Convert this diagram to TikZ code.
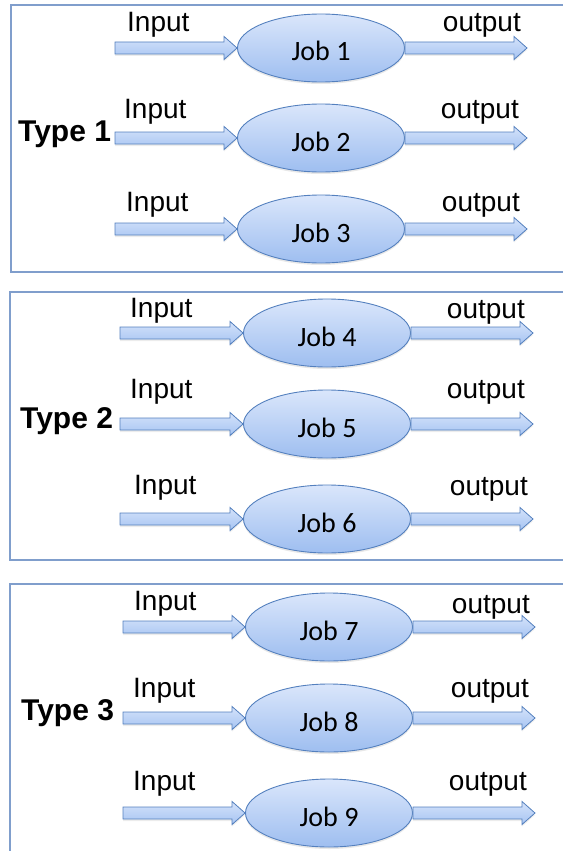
\documentclass[tikz,border=0pt]{standalone}
\usepackage{fontspec}
\usepackage{xcolor}
\usepackage{tikz}
\usetikzlibrary{calc, shapes.geometric, shadows}

\newfontfamily\labfont{Liberation Sans}
\newfontfamily\jobfont{Carlito}

\definecolor{panelline}{RGB}{128,158,204}
\definecolor{jobline}{RGB}{84,128,190}
\definecolor{jobtop}{RGB}{218,230,251}
\definecolor{jobbot}{RGB}{158,190,240}
\definecolor{arrtop}{RGB}{212,226,250}
\definecolor{arrbot}{RGB}{166,196,242}

\begin{document}
\begin{tikzpicture}[
        x=1pt, y=-1pt,
        panel/.style={draw=panelline, line width=1.2pt},
        job/.style={ellipse, draw=jobline, line width=0.9pt,
            top color=jobtop, bottom color=jobbot,
            minimum width=167pt, minimum height=68pt, inner sep=0pt,
            font=\jobfont\fontsize{28}{32}\selectfont,
            text height=26pt, text depth=0pt,
            drop shadow={shadow xshift=0pt, shadow yshift=-2pt, opacity=0.18}},
        blockarrow/.style={draw=jobline, line width=0.8pt,
            top color=arrtop, bottom color=arrbot,
            drop shadow={shadow xshift=0pt, shadow yshift=-2pt, opacity=0.15},
            to path={let \p1=(\tikztostart), \p2=(\tikztotarget) in
                (\x1,{\y1+6pt}) -- ({\x2-13pt},{\y1+6pt}) -- ({\x2-13pt},{\y1+11.5pt})
                -- (\x2,\y1) -- ({\x2-13pt},{\y1-11.5pt}) -- ({\x2-13pt},{\y1-6pt})
                -- (\x1,{\y1-6pt}) -- cycle}},
        inlabel/.style={anchor=base west, inner sep=0pt, font=\labfont\fontsize{28}{32}\selectfont},
        outlabel/.style={anchor=base east, inner sep=0pt, font=\labfont\fontsize{28}{32}\selectfont},
        typelabel/.style={anchor=base west, inner sep=0pt, font=\labfont\bfseries\fontsize{30}{34}\selectfont}
    ]
    \useasboundingbox (0,0) rectangle (562,851);

    % Panels
    \draw[panel] (11,5) rectangle (580,272);
    \draw[panel] (10,292) rectangle (580,560);
    \draw[panel] (10,584) rectangle (580,880);

    % Ends of the block arrows
    \coordinate (I1) at (115,48);
    \coordinate (I2) at (115,138);
    \coordinate (I3) at (115,229);
    \coordinate (I4) at (120,333);
    \coordinate (I5) at (120,424);
    \coordinate (I6) at (120,519);
    \coordinate (I7) at (123,627);
    \coordinate (I8) at (123,718);
    \coordinate (I9) at (123,813);
    \coordinate (O1) at (527,48);
    \coordinate (O2) at (527,138);
    \coordinate (O3) at (527,229);
    \coordinate (O4) at (533,333);
    \coordinate (O5) at (533,424);
    \coordinate (O6) at (533,519);
    \coordinate (O7) at (535,627);
    \coordinate (O8) at (535,718);
    \coordinate (O9) at (535,813);

    % Jobs
    \node[job] (J1) at (321,48) {Job 1};
    \node[job] (J2) at (321,138) {Job 2};
    \node[job] (J3) at (321,229) {Job 3};
    \node[job] (J4) at (327,333) {Job 4};
    \node[job] (J5) at (327,424) {Job 5};
    \node[job] (J6) at (327,519) {Job 6};
    \node[job] (J7) at (329,627) {Job 7};
    \node[job] (J8) at (329,718) {Job 8};
    \node[job] (J9) at (329,813) {Job 9};

    % Input and output arrows
    \draw[blockarrow] (I1) to (J1.west);
    \draw[blockarrow] (I2) to (J2.west);
    \draw[blockarrow] (I3) to (J3.west);
    \draw[blockarrow] (I4) to (J4.west);
    \draw[blockarrow] (I5) to (J5.west);
    \draw[blockarrow] (I6) to (J6.west);
    \draw[blockarrow] (I7) to (J7.west);
    \draw[blockarrow] (I8) to (J8.west);
    \draw[blockarrow] (I9) to (J9.west);
    \draw[blockarrow] (J1.east) to (O1);
    \draw[blockarrow] (J2.east) to (O2);
    \draw[blockarrow] (J3.east) to (O3);
    \draw[blockarrow] (J4.east) to (O4);
    \draw[blockarrow] (J5.east) to (O5);
    \draw[blockarrow] (J6.east) to (O6);
    \draw[blockarrow] (J7.east) to (O7);
    \draw[blockarrow] (J8.east) to (O8);
    \draw[blockarrow] (J9.east) to (O9);

    % Labels
    \node[inlabel] (LI1) at (127,32) {Input};
    \node[inlabel] (LI2) at (124,118) {Input};
    \node[inlabel] (LI3) at (126,211) {Input};
    \node[inlabel] (LI4) at (130,317) {Input};
    \node[inlabel] (LI5) at (130,398) {Input};
    \node[inlabel] (LI6) at (134,494) {Input};
    \node[inlabel] (LI7) at (134,610) {Input};
    \node[inlabel] (LI8) at (133,697) {Input};
    \node[inlabel] (LI9) at (133,790) {Input};
    \node[outlabel] (LO1) at (521,32) {output};
    \node[outlabel] (LO2) at (519,118) {output};
    \node[outlabel] (LO3) at (520,211) {output};
    \node[outlabel] (LO4) at (525,318) {output};
    \node[outlabel] (LO5) at (525,398) {output};
    \node[outlabel] (LO6) at (528,495) {output};
    \node[outlabel] (LO7) at (530,613) {output};
    \node[outlabel] (LO8) at (529,697) {output};
    \node[outlabel] (LO9) at (527,790) {output};
    \node[typelabel] (T1) at (18,141) {Type 1};
    \node[typelabel] (T2) at (20,428) {Type 2};
    \node[typelabel] (T3) at (21,720) {Type 3};

\end{tikzpicture}
\end{document}
